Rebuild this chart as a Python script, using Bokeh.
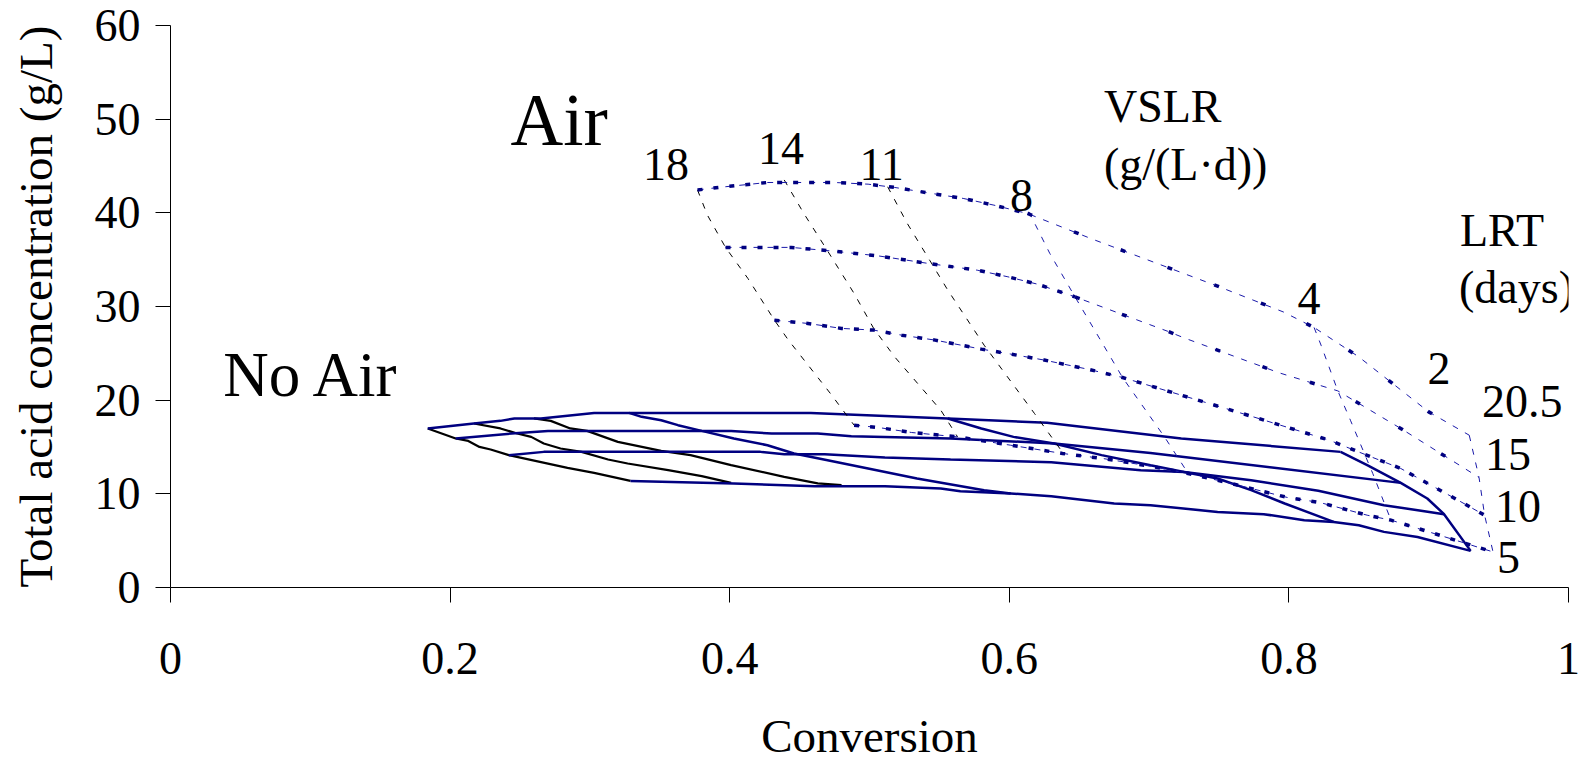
from bokeh.plotting import figure
from bokeh.models import Range1d, FixedTicker, Label
from bokeh.embed import file_html
from bokeh.resources import INLINE

# ---------------- axes ----------------
x_ticks = [0, 0.2, 0.4, 0.6, 0.8, 1]
x_tick_labels = ["0", "0.2", "0.4", "0.6", "0.8", "1"]
y_ticks = [0, 10, 20, 30, 40, 50, 60]

# ---------------- No Air grid (solid lines) ----------------
# rows (blue)
noair_row1_x = [0.184, 0.217, 0.236, 0.246, 0.265, 0.303, 0.328, 0.458, 0.556, 0.627, 0.723, 0.837]
noair_row1_y = [16.98, 17.51, 17.79, 18.05, 18.05, 18.64, 18.64, 18.64, 18.05, 17.58, 15.91, 14.48]
noair_row2_x = [0.204, 0.244, 0.270, 0.401, 0.430, 0.463, 0.487, 0.558, 0.632, 0.701, 0.880]
noair_row2_y = [15.91, 16.44, 16.72, 16.72, 16.44, 16.44, 16.16, 15.91, 15.38, 14.37, 11.17]
noair_row3_x = [0.242, 0.267, 0.422, 0.439, 0.468, 0.511, 0.558, 0.630, 0.694, 0.725, 0.773, 0.821, 0.868, 0.911]
noair_row3_y = [14.13, 14.48, 14.48, 14.23, 14.23, 13.88, 13.67, 13.38, 12.53, 12.34, 11.46, 10.32, 8.79, 7.83]
noair_row4_x = [0.329, 0.403, 0.461, 0.511, 0.551, 0.565, 0.601, 0.630, 0.675, 0.701, 0.749, 0.782, 0.811,
                0.832, 0.850, 0.868, 0.892, 0.930]
noair_row4_y = [11.38, 11.11, 10.82, 10.82, 10.57, 10.28, 10.04, 9.75, 8.97, 8.79, 8.07, 7.83, 7.19,
                7.00, 6.65, 5.94, 5.40, 3.91]
# columns (black)
noair_colA_x = [0.184, 0.204, 0.213, 0.221, 0.229, 0.242, 0.284, 0.303, 0.329]
noair_colA_y = [16.98, 15.91, 15.65, 15.01, 14.73, 14.13, 12.77, 12.24, 11.38]
noair_colB_x = [0.217, 0.236, 0.248, 0.258, 0.267, 0.279, 0.294, 0.313, 0.327, 0.356, 0.380, 0.401]
noair_colB_y = [17.51, 16.98, 16.44, 16.08, 15.38, 14.84, 14.48, 13.67, 13.24, 12.53, 11.89, 11.17]
noair_colC_x = [0.260, 0.272, 0.286, 0.298, 0.320, 0.351, 0.372, 0.401, 0.439, 0.463, 0.480]
noair_colC_y = [18.05, 17.79, 16.98, 16.72, 15.55, 14.58, 14.13, 13.06, 11.81, 11.11, 10.92]
# columns (blue)
noair_colD_x = [0.328, 0.337, 0.351, 0.363, 0.380, 0.403, 0.427, 0.446, 0.470, 0.499, 0.534, 0.582, 0.601]
noair_colD_y = [18.64, 18.22, 17.86, 17.33, 16.72, 15.91, 15.19, 14.30, 13.59, 12.71, 11.64, 10.39, 10.04]
noair_colE_x = [0.556, 0.580, 0.603, 0.632, 0.666, 0.701, 0.725, 0.749, 0.773, 0.797, 0.832]
noair_colE_y = [18.05, 16.98, 16.08, 15.38, 14.13, 13.06, 12.34, 11.64, 10.39, 8.97, 7.00]
noair_colF_x = [0.837, 0.856, 0.880, 0.899, 0.911, 0.930]
noair_colF_y = [14.48, 13.06, 11.17, 9.50, 7.83, 3.91]

# ---------------- Air grid (dashed / dotted lines) ----------------
# constant VSLR lines
air_vslr18_x = [0.377, 0.384, 0.397, 0.413, 0.432, 0.442, 0.472, 0.489]
air_vslr18_y = [42.44, 39.77, 36.31, 33.00, 28.54, 26.41, 20.72, 17.33]
air_vslr14_x = [0.439, 0.453, 0.470, 0.489, 0.503, 0.518, 0.551, 0.563]
air_vslr14_y = [43.51, 39.94, 35.94, 31.39, 27.66, 24.62, 18.93, 16.08]
air_vslr11_x = [0.513, 0.527, 0.543, 0.556, 0.582, 0.618, 0.637]
air_vslr11_y = [42.78, 38.87, 34.95, 31.75, 25.87, 18.58, 14.66]
air_vslr8_x = [0.614, 0.629, 0.647, 0.681, 0.711, 0.728]
air_vslr8_y = [40.11, 35.66, 31.03, 22.42, 16.08, 12.17]
air_vslr4_x = [0.818, 0.823, 0.835, 0.844, 0.860, 0.873]
air_vslr4_y = [27.76, 25.87, 20.99, 17.86, 12.17, 7.19]
air_vslr2_x = [0.929, 0.936, 0.940, 0.946]
air_vslr2_y = [16.26, 11.75, 7.72, 3.80]
# constant LRT lines
air_lrt20_5_x = [0.377, 0.392, 0.427, 0.475, 0.499, 0.518, 0.540, 0.567, 0.589, 0.613, 0.660, 0.749,
                 0.796, 0.818, 0.850, 0.900, 0.929]
air_lrt20_5_y = [42.44, 42.71, 43.24, 43.24, 43.06, 42.71, 42.18, 41.54, 40.82, 39.93, 37.16, 32.17,
                 29.42, 27.76, 24.62, 18.75, 16.26]
air_lrt15_x = [0.397, 0.444, 0.472, 0.506, 0.542, 0.577, 0.599, 0.620, 0.647, 0.713, 0.725, 0.793,
               0.835, 0.880, 0.936]
air_lrt15_y = [36.31, 36.31, 35.94, 35.41, 34.60, 33.88, 33.17, 32.39, 31.03, 27.37, 26.65, 22.92,
               20.99, 16.98, 11.75]
air_lrt10_x = [0.432, 0.456, 0.480, 0.503, 0.523, 0.547, 0.580, 0.601, 0.625, 0.657, 0.681, 0.739,
               0.773, 0.829, 0.854, 0.880, 0.921, 0.940]
air_lrt10_y = [28.54, 28.19, 27.66, 27.48, 26.94, 26.41, 25.45, 24.92, 24.28, 23.28, 22.42, 19.82,
               18.29, 15.72, 14.23, 12.71, 9.32, 7.72]
air_lrt5_x = [0.489, 0.506, 0.530, 0.563, 0.601, 0.638, 0.667, 0.701, 0.728, 0.755, 0.799, 0.822,
              0.856, 0.873, 0.887, 0.946]
air_lrt5_y = [17.33, 17.09, 16.55, 16.08, 15.19, 14.31, 13.77, 12.95, 12.17, 11.24, 9.61, 9.08,
              7.72, 7.19, 6.55, 3.80]

# ---------------- text annotations (positions = text centre line) ----------------
big_texts = ["Air", "No Air"]
big_x = [0.278, 0.101]
big_y = [49.9, 22.70]
vslr_texts = ["18", "14", "11", "8", "4", "2"]
vslr_x = [0.3544, 0.4367, 0.5086, 0.6087, 0.8144, 0.9074]
vslr_y = [45.17, 46.91, 45.17, 41.87, 30.84, 23.36]
lrt_texts = ["20.5", "15", "10", "5"]
lrt_x = [0.9381, 0.9403, 0.9474, 0.9488]
lrt_y = [19.84, 14.18, 8.68, 3.18]
title_texts = ["VSLR", "(g/(L\u00b7d))", "LRT", "(days)"]
title_x = [0.6677, 0.6677, 0.9224, 0.9217]
title_y = [51.34, 45.15, 38.10, 32.0]

FONT = "Liberation Serif"
NAVY = "#000080"
THIN_BLUE = "#1a1aaa"

p = figure(frame_width=1398, frame_height=562,
           x_range=Range1d(0, 1), y_range=Range1d(0, 60),
           output_backend="svg", toolbar_location=None,
           min_border_left=170, min_border_right=17, min_border_top=25, min_border_bottom=174)
p.grid.visible = False
p.outline_line_color = None
p.background_fill_color = "white"
p.border_fill_color = "white"

p.xaxis.ticker = FixedTicker(ticks=x_ticks)
p.xaxis.major_label_overrides = {t: l for t, l in zip(x_ticks, x_tick_labels)}
p.yaxis.ticker = FixedTicker(ticks=y_ticks)
for ax in (p.xaxis[0], p.yaxis[0]):
    ax.axis_line_color = "black"
    ax.axis_line_width = 1
    ax.major_tick_line_color = "black"
    ax.major_tick_line_width = 1
    ax.major_tick_out = 15
    ax.major_tick_in = 0
    ax.minor_tick_line_color = None
    ax.major_label_text_font = FONT
    ax.major_label_text_font_size = "46px"
    ax.major_label_text_color = "black"
    ax.axis_label_text_font = FONT
    ax.axis_label_text_font_size = "47px"
    ax.axis_label_text_font_style = "normal"
    ax.axis_label_text_color = "black"
p.xaxis.axis_label = "Conversion"
p.yaxis.axis_label = "Total acid concentration (g/L)"
p.xaxis.major_label_standoff = 40
p.yaxis.major_label_standoff = 15
p.xaxis.axis_label_standoff = 33
p.yaxis.axis_label_standoff = 30

# No-air solid grid
for xs, ys in [(noair_colA_x, noair_colA_y), (noair_colB_x, noair_colB_y), (noair_colC_x, noair_colC_y)]:
    p.line(xs, ys, line_color="black", line_width=2.2)
for xs, ys in [(noair_row1_x, noair_row1_y), (noair_row2_x, noair_row2_y), (noair_row3_x, noair_row3_y),
               (noair_row4_x, noair_row4_y), (noair_colD_x, noair_colD_y), (noair_colE_x, noair_colE_y),
               (noair_colF_x, noair_colF_y)]:
    p.line(xs, ys, line_color=NAVY, line_width=2.5)

# Air grid: VSLR lines thin dashed
for xs, ys in [(air_vslr18_x, air_vslr18_y), (air_vslr14_x, air_vslr14_y), (air_vslr11_x, air_vslr11_y)]:
    p.line(xs, ys, line_color="black", line_width=1, line_dash="6 8")
for xs, ys in [(air_vslr8_x, air_vslr8_y), (air_vslr4_x, air_vslr4_y), (air_vslr2_x, air_vslr2_y)]:
    p.line(xs, ys, line_color=THIN_BLUE, line_width=1, line_dash="6 8")

# Air grid: LRT lines (thin dashed + heavy dots)
rows = [(air_lrt20_5_x, air_lrt20_5_y, 9), (air_lrt15_x, air_lrt15_y, 8),
        (air_lrt10_x, air_lrt10_y, None), (air_lrt5_x, air_lrt5_y, None)]
for xs, ys, k in rows:
    p.line(xs, ys, line_color=THIN_BLUE, line_width=1, line_dash="6 8")
    if k is None:
        p.line(xs, ys, line_color=NAVY, line_width=3.5, line_dash="5 11")
    else:
        p.line(xs[:k + 1], ys[:k + 1], line_color=NAVY, line_width=3.5, line_dash="5 11")
        p.line(xs[k:], ys[k:], line_color=NAVY, line_width=3.5, line_dash="5 45")


def add_labels(texts, xs, ys, size, align):
    for t, x, y in zip(texts, xs, ys):
        p.add_layout(Label(x=x, y=y, text=t, text_font=FONT, text_font_size=size,
                           text_align=align, text_baseline="middle", text_color="black"))


add_labels(big_texts[:1], big_x[:1], big_y[:1], "73px", "center")
add_labels(big_texts[1:], big_x[1:], big_y[1:], "63px", "center")
add_labels(vslr_texts, vslr_x, vslr_y, "46px", "center")
add_labels(lrt_texts, lrt_x, lrt_y, "46px", "left")
add_labels(title_texts, title_x, title_y, "46px", "left")

open("out.html", "w").write(file_html(p, INLINE))
